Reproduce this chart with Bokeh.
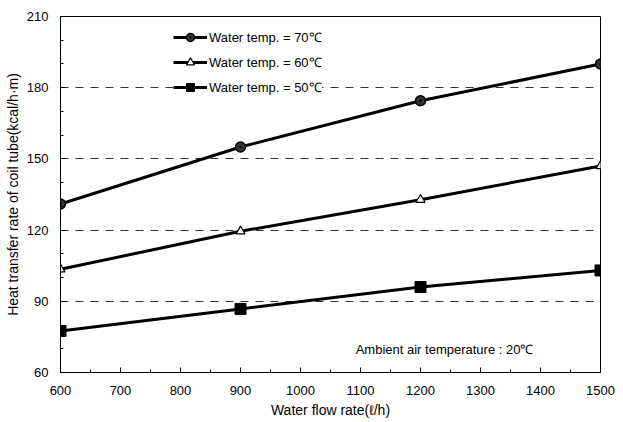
from bokeh.plotting import figure
from bokeh.models import Legend, LegendItem, Label, FixedTicker, Range1d
from bokeh.embed import file_html
from bokeh.resources import INLINE

flow = [600, 900, 1200, 1500]
t70 = [131, 155, 174.5, 190]
t60 = [103.5, 119.5, 132.8, 147]
t50 = [77.5, 86.8, 96, 103]
labels = ["Water temp. = 70\u2103", "Water temp. = 60\u2103", "Water temp. = 50\u2103"]
x_ticks = [600, 700, 800, 900, 1000, 1100, 1200, 1300, 1400, 1500]
y_ticks = [60, 90, 120, 150, 180, 210]

FONT = "Liberation Sans"

p = figure(width=615, height=420, output_backend="svg", toolbar_location=None,
           x_range=Range1d(600, 1500), y_range=Range1d(60, 210))
p.min_border_left = 60
p.min_border_right = 15
p.min_border_top = 16
p.min_border_bottom = 47
p.outline_line_color = "black"
p.outline_line_width = 1
p.background_fill_color = "white"
p.border_fill_color = "white"

p.xaxis.ticker = FixedTicker(ticks=x_ticks, minor_ticks=[650 + 100 * i for i in range(9)])
p.yaxis.ticker = FixedTicker(ticks=y_ticks, minor_ticks=[70 + 10 * i for i in range(15) if (70 + 10 * i) % 30 != 0])
for ax in (p.xaxis[0], p.yaxis[0]):
    ax.major_tick_in = 5
    ax.major_tick_out = 0
    ax.minor_tick_in = 3
    ax.minor_tick_out = 0
    ax.axis_line_color = "black"
    ax.major_tick_line_color = "black"
    ax.minor_tick_line_color = "black"
    ax.major_label_text_font = FONT
    ax.major_label_text_font_size = "13px"
    ax.major_label_text_color = "black"
    ax.axis_label_text_font = FONT
    ax.axis_label_text_font_size = "14px"
    ax.axis_label_text_font_style = "normal"
    ax.axis_label_text_color = "black"
p.xaxis.axis_label = "Water flow rate(\u2113/h)"
p.yaxis.axis_label = "Heat transfer rate of coil tube(kcal/h\u00b7m)"
p.xaxis.major_label_standoff = 13
p.xaxis.axis_label_standoff = 4
p.yaxis.major_label_standoff = 12
p.yaxis.axis_label_standoff = 3

p.xgrid.grid_line_color = None
p.ygrid.grid_line_color = "#333333"
p.ygrid.grid_line_dash = "8 7"
p.ygrid.grid_line_width = 1

l70 = p.line(flow, t70, line_color="black", line_width=3)
m70 = p.scatter(flow, t70, marker="circle_dot", size=10, fill_color="#333333", line_color="black", line_width=1.5)
l60 = p.line(flow, t60, line_color="black", line_width=3)
m60 = p.scatter(flow, t60, marker="triangle", size=9, fill_color="white", line_color="black", line_width=1.2)
l50 = p.line(flow, t50, line_color="black", line_width=3)
m50 = p.scatter(flow, t50, marker="square", size=11, fill_color="black", line_color="black")

legend = Legend(items=[
    LegendItem(label=labels[0], renderers=[l70, m70]),
    LegendItem(label=labels[1], renderers=[l60, m60]),
    LegendItem(label=labels[2], renderers=[l50, m50]),
], location=(113, 275))
legend.padding = 10
legend.margin = 0
legend.spacing = 5
legend.glyph_height = 20
legend.glyph_width = 34
legend.label_height = 20
legend.label_standoff = 2
legend.label_text_font = FONT
legend.label_text_font_size = "13px"
legend.label_text_color = "black"
legend.border_line_color = None
legend.background_fill_color = "white"
legend.background_fill_alpha = 1
p.add_layout(legend)

p.add_layout(Label(x=1092, y=69.7, text="Ambient air temperature : 20\u2103",
                   text_font=FONT, text_font_size="13px", text_color="black",
                   text_baseline="middle"))

open("out.html", "w").write(file_html(p, INLINE))
